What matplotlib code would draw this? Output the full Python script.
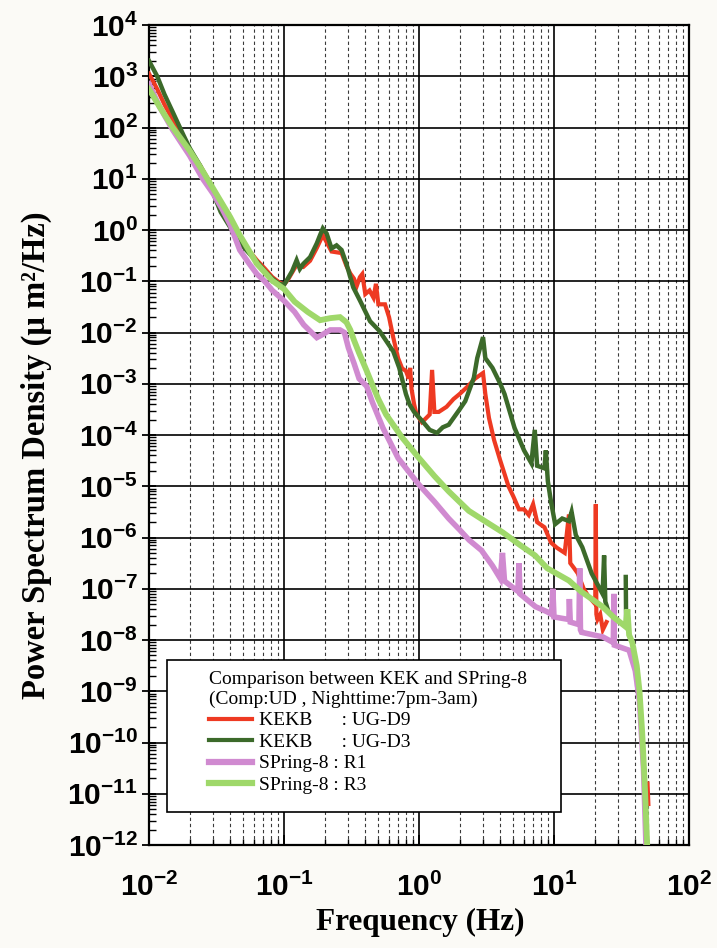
import numpy as np
import matplotlib
matplotlib.use("Agg")
import matplotlib.pyplot as plt
from matplotlib.ticker import FixedLocator, NullFormatter, LogFormatterSciNotation
from matplotlib.font_manager import FontProperties
from matplotlib.patches import Rectangle

nan = np.nan

# ---------------- data (PSD stored as log10 values) ----------------
red_f = [0.010, 0.0115, 0.013, 0.015, 0.018, 0.020, 0.024, 0.028, 0.0336, 0.040, 0.047, 0.055,
         0.063, 0.072, 0.082, 0.092, 0.100, 0.108, 0.124, 0.139, 0.156, 0.175, 0.194, 0.225,
         0.267, 0.29, 0.31, 0.33, 0.345,
         0.365, 0.38, 0.40, 0.43, 0.46, 0.48, 0.50, 0.56, 0.60, 0.645, 0.70, 0.75, 0.80, 0.84,
         0.86, 0.88, 0.92, 0.96, 1.0, 1.05, 1.1, 1.2, 1.25, 1.3, 1.4, 1.6, 1.8, 2.0, 2.3, 2.6,
         2.98, 3.1, 3.3, 3.6, 4.0, 4.6, 5.0, 5.5, 6.0, 6.5, 7.0, 7.5, 8.5, 9.5, 10.5, 12.0,
         12.9, 13.2, 14.1, 15.0, 16.6, 18.0, 20.2, 20.4, 20.6, 21.0, 22.0, 23.0, 24.5, nan,
         49.3, 50.0]
red_logpsd = [3.05, 2.75, 2.45, 2.15, 1.8, 1.55, 1.25, 0.95, 0.45, 0.2, -0.2, -0.4,
              -0.59, -0.75, -0.92, -1.02, -1.07, -0.95, -0.68, -0.72, -0.6, -0.35, -0.1, -0.42,
              -0.45, -0.7, -0.85, -0.95, -1.1,
              -0.92, -0.86, -1.25, -1.18, -1.32, -1.05, -1.45, -1.45, -1.7, -2.1, -2.5, -2.7, -2.75, -2.9,
              -2.69, -3.1, -3.4, -3.6, -3.67, -3.75, -3.7, -3.6, -2.73, -3.55, -3.55, -3.45, -3.3, -3.2, -3.05, -2.9,
              -2.79, -3.2, -3.67, -4.1, -4.5, -5.0, -5.2, -5.45, -5.45, -5.56, -5.35, -5.7, -5.8, -6.1, -6.2, -6.3,
              -5.55, -6.5, -6.6, -6.7, -7.0, -7.15, -7.3, -5.35, -7.5, -7.6, -7.5, -7.8, -7.65, nan,
              -10.8, -11.2]

dg_f = [0.010, 0.0115, 0.013, 0.015, 0.018, 0.020, 0.024, 0.028, 0.034, 0.040, 0.047, 0.055,
        0.063, 0.072, 0.082, 0.092, 0.100, 0.105, 0.115, 0.124, 0.131, 0.139, 0.156, 0.175,
        0.185, 0.194, 0.207, 0.225, 0.245, 0.267, 0.29, 0.326, 0.366, 0.434, 0.51, 0.645,
        0.714, 0.8, 0.85, 0.92, 1.06, 1.2, 1.36, 1.5, 1.66, 2.0, 2.2, 2.55, 2.7, 2.98, 3.1,
        3.5, 4.0, 4.3, 5.1, 6.0, 6.8, 7.2, 7.5, 8.5, 8.7, 9.0, 9.5, 10.2, 11.5, 12.9, 13.5,
        14.5, 16.2, 19.0, 22.9, 23.5, 24.0, 25.0, nan, 34.0, 34.2]
dg_logpsd = [3.3, 3.0, 2.65, 2.3, 1.85, 1.6, 1.25, 0.9, 0.35, 0.05, -0.25, -0.45,
             -0.62, -0.8, -0.95, -1.05, -1.07, -0.98, -0.8, -0.59, -0.76, -0.66, -0.53, -0.26,
             -0.1, 0.03, -0.07, -0.36, -0.3, -0.39, -0.66, -1.12, -1.38, -1.78, -1.97, -2.37,
             -2.69, -3.2, -3.4, -3.55, -3.73, -3.9, -3.96, -3.85, -3.8, -3.5, -3.34, -2.88, -2.5, -2.09, -2.5,
             -2.69, -3.0, -3.2, -3.86, -4.3, -4.55, -3.9, -4.6, -4.65, -4.3, -4.9, -5.3, -5.74, -5.63, -5.68, -5.5,
             -5.95, -6.19, -6.7, -7.1, -6.35, -7.25, -7.4, nan, -6.77, -7.6]

pink_f = [0.010, 0.012, 0.015, 0.020, 0.025, 0.030, 0.035, 0.040, 0.047, 0.055, 0.063, 0.072,
          0.082, 0.100, 0.120, 0.140, 0.160, 0.175, 0.190, 0.220, 0.260, 0.280, 0.300, 0.330,
          0.360, 0.410, 0.450, 0.540, 0.700, 1.0, 1.3, 1.66, 2.0, 2.35, 2.9, 3.5, 4.0, 4.15,
          4.3, 5.1, 5.4, 5.5, 5.6, 7.3, 8.9, 9.6, 9.8, 10.0, 12.9, 13.0, 13.2, 15.3, 15.5, 15.7,
          16.0, 23.0, 27.5, 27.8, 28.0, 36.0, 40.0, 43.0, 46.0, 48.0]
pink_logpsd = [2.85, 2.4, 1.95, 1.45, 1.0, 0.7, 0.4, 0.1, -0.39, -0.65, -0.86, -1.0,
               -1.18, -1.38, -1.6, -1.85, -2.0, -2.1, -2.05, -1.95, -1.95, -2.0, -2.3, -2.6,
               -2.9, -3.05, -3.35, -3.86, -4.45, -4.97, -5.3, -5.63, -5.85, -6.05, -6.25, -6.55, -6.8, -6.3,
               -6.85, -7.0, -7.05, -6.5, -7.1, -7.35, -7.45, -7.5, -7.0, -7.55, -7.6, -7.2, -7.65, -7.7, -6.6, -7.8,
               -7.85, -7.94, -8.05, -7.1, -8.1, -8.2, -8.6, -9.2, -10.5, -12.0]

lg_f = [0.010, 0.012, 0.015, 0.020, 0.025, 0.030, 0.040, 0.047, 0.055, 0.063, 0.082, 0.100,
        0.120, 0.150, 0.185, 0.220, 0.260, 0.290, 0.310, 0.330, 0.360, 0.410, 0.440, 0.500,
        0.570, 0.750, 1.0, 1.3, 1.66, 2.34, 3.16, 4.17, 5.62, 7.24, 8.91, 12.9, 15.8, 22.9,
        27.5, 33.9, 35.0, 36.0, 38.0, 41.0, 43.0, 45.0, 47.0, 49.0]
lg_logpsd = [2.75, 2.4, 2.0, 1.55, 1.15, 0.8, 0.25, -0.1, -0.4, -0.66, -0.99, -1.15,
             -1.4, -1.6, -1.76, -1.72, -1.7, -1.8, -1.95, -2.15, -2.4, -2.75, -2.95, -3.3,
             -3.6, -4.05, -4.45, -4.8, -5.1, -5.48, -5.7, -5.9, -6.15, -6.35, -6.6, -6.84, -7.05, -7.35,
             -7.55, -7.74, -7.4, -7.9, -8.05, -8.5, -9.0, -9.8, -10.8, -12.0]

x_decades = [-2, -1, 0, 1, 2]
y_decades = list(range(-12, 5))

series_labels = ["KEKB      : UG-D9", "KEKB      : UG-D3", "SPring-8 : R1", "SPring-8 : R3"]
legend_title = "Comparison between KEK and SPring-8\n(Comp:UD , Nighttime:7pm-3am)"
x_label = "Frequency (Hz)"
y_label = "Power Spectrum Density (\u03bc m\u00b2/Hz)"

# ---------------- styling ----------------
plt.rcParams['font.family'] = ['Liberation Sans', 'DejaVu Sans']
plt.rcParams['font.weight'] = 'bold'
plt.rcParams['mathtext.fontset'] = 'custom'
plt.rcParams['mathtext.rm'] = 'Liberation Sans:bold'
plt.rcParams['mathtext.it'] = 'Liberation Sans:bold:italic'
plt.rcParams['mathtext.bf'] = 'Liberation Sans:bold'

bg = '#fbfaf6'
fig = plt.figure(figsize=(7.17, 9.48), dpi=100, facecolor=bg)
ax = fig.add_axes([149 / 717, 1 - 845 / 948, 540 / 717, 820 / 948])
ax.set_facecolor('white')
ax.set_xscale('log')
ax.set_yscale('log')
ax.set_xlim(10.0 ** x_decades[0], 10.0 ** x_decades[-1])
ax.set_ylim(10.0 ** y_decades[0], 10.0 ** y_decades[-1])

colors = ['#ee3a22', '#3c6a2a', '#d08ad0', '#9fd86a']
lws = [3.0, 3.2, 4.0, 4.2]
leg_lws = [3.0, 3.0, 4.5, 4.5]
data = [(red_f, red_logpsd), (dg_f, dg_logpsd), (pink_f, pink_logpsd), (lg_f, lg_logpsd)]
for i, ((f, lp), c, lw, lab) in enumerate(zip(data, colors, lws, series_labels)):
    ax.plot(f, 10 ** np.array(lp, dtype=float), color=c, lw=lw, label=lab,
            zorder=3 + 0.1 * i, solid_joinstyle='miter')

# ticks (only inside the view range)
xmaj = [10.0 ** d for d in x_decades]
ymaj = [10.0 ** d for d in y_decades]
xmin = [m * 10.0 ** d for d in x_decades[:-1] for m in range(2, 10)]
ymin = [m * 10.0 ** d for d in y_decades[:-1] for m in range(2, 10)]
ax.xaxis.set_major_locator(FixedLocator(xmaj))
ax.yaxis.set_major_locator(FixedLocator(ymaj))
ax.xaxis.set_minor_locator(FixedLocator(xmin))
ax.yaxis.set_minor_locator(FixedLocator(ymin))
ax.xaxis.set_minor_formatter(NullFormatter())
ax.yaxis.set_minor_formatter(NullFormatter())
ax.xaxis.set_major_formatter(LogFormatterSciNotation())
ax.yaxis.set_major_formatter(LogFormatterSciNotation())

ax.tick_params(axis='x', which='major', labelsize=21.5, colors='black', width=1.3,
               direction='in', length=7, pad=20)
ax.tick_params(axis='y', which='major', labelsize=21.5, colors='black', width=1.3,
               direction='inout', length=10, pad=3)
ax.tick_params(axis='x', which='minor', direction='in', length=4, width=1.0)
ax.tick_params(axis='y', which='minor', direction='in', length=5, width=1.0)

# grid
ax.grid(which='major', axis='both', color='black', lw=1.2)
ax.grid(which='minor', axis='x', color='#3a3a3a', lw=0.8, ls=(0, (3, 2.5)))
ax.grid(which='minor', axis='y', visible=False)
for s in ax.spines.values():
    s.set_linewidth(1.6)
    s.set_color('black')

# labels
xlab_font = FontProperties(family='Liberation Serif', weight='bold', size=22.5)
ylab_font = FontProperties(family='Liberation Serif', weight='bold', size=23.5)
fig.text(420 / 717, 1 - 922 / 948, x_label, fontproperties=xlab_font, ha='center', va='center')
fig.text(36 / 717, 1 - 455 / 948, y_label, fontproperties=ylab_font, ha='center', va='center',
         rotation=90)

# legend box + legend
box = Rectangle((18 / 540, 33 / 820), 394 / 540, 152 / 820, transform=ax.transAxes,
                facecolor='white', edgecolor='black', lw=1.2, zorder=6)
ax.add_patch(box)
leg_font = FontProperties(family='Liberation Serif', weight='normal', size=14)
leg = ax.legend(loc='upper left', bbox_to_anchor=(60 / 540, (845 - 671) / 820),
                frameon=False, prop=leg_font, title=legend_title,
                title_fontproperties=leg_font, alignment='left',
                handlelength=2.2, handletextpad=0.35, labelspacing=0.2,
                borderpad=0, borderaxespad=0)
leg.set_zorder(7)
for line, lw in zip(leg.get_lines(), leg_lws):
    line.set_linewidth(lw)

fig.savefig('out.png', dpi=100, facecolor=bg)
